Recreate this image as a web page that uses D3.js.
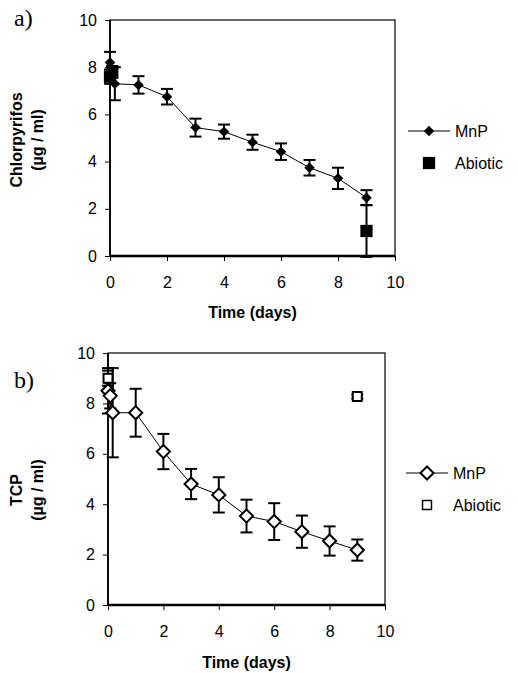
<!DOCTYPE html>
<html>
<head>
<meta charset="utf-8">
<script src="https://cdnjs.cloudflare.com/ajax/libs/d3/7.8.5/d3.min.js"></script>
<style>
  body { margin: 0; background: #fff; }
  svg { display: block; }
</style>
</head>
<body>
<div id="chart"></div>
<script>
// Panel a) chlorpyrifos
var daysA = [0, 0.08, 0.17, 1, 2, 3, 4, 5, 6, 7, 8, 9];
var mnpA = [8.2, 7.6, 7.3, 7.25, 6.75, 5.44, 5.27, 4.82, 4.42, 3.74, 3.29, 2.47];
var mnpErrA = [0.45, 0.3, 0.7, 0.37, 0.33, 0.38, 0.3, 0.32, 0.35, 0.33, 0.45, 0.32];
var abioDaysA = [0, 0.08, 9];
var abioA = [7.6, 7.8, 1.06];
var abioErrA = [0.3, 0.25, 1.1];

// Panel b) TCP
var daysB = [0, 0.08, 0.17, 1, 2, 3, 4, 5, 6, 7, 8, 9];
var mnpB = [8.5, 8.3, 7.63, 7.63, 6.09, 4.8, 4.37, 3.53, 3.31, 2.91, 2.54, 2.18];
var mnpErrB = [0.9, 0.5, 1.77, 0.95, 0.7, 0.6, 0.7, 0.65, 0.73, 0.64, 0.58, 0.42];
var abioDaysB = [0, 9];
var abioB = [9.0, 8.27];
var abioErrB = [0.3, 0.08];

var xTicks = [0, 2, 4, 6, 8, 10];
var yTicks = [0, 2, 4, 6, 8, 10];
var seriesNames = ['MnP', 'Abiotic'];

var width = 518;
var height = 673;

var svg = d3.select('#chart').append('svg')
    .attr('width', width)
    .attr('height', height);

function zip(xs, ys, es) {
    return xs.map(function(x, i) { return {x: x, y: ys[i], e: es[i]}; });
}

var drawPanel = function(cfg) {
    var x = d3.scaleLinear().domain([0, 10]).range([cfg.left, cfg.right]);
    var y = d3.scaleLinear().domain([0, 10]).range([cfg.bottom, cfg.top]);
    var g = svg.append('g');

    //frame (top + right)
    g.append('rect')
        .attr('x', cfg.left).attr('y', cfg.top)
        .attr('width', cfg.right - cfg.left).attr('height', cfg.bottom - cfg.top)
        .attr('fill', 'none').attr('stroke', '#000').attr('stroke-width', 1.2);

    //axes
    var xAxis = g.append('g')
        .attr('transform', 'translate(0,' + cfg.bottom + ')')
        .call(d3.axisBottom(x).tickValues(xTicks).tickSize(5).tickPadding(16));
    var yAxis = g.append('g')
        .attr('transform', 'translate(' + cfg.left + ',0)')
        .call(d3.axisLeft(y).tickValues(yTicks).tickSize(5).tickPadding(8));
    xAxis.select('.domain').attr('stroke-width', 2.5).attr('d', 'M' + cfg.left + ',0H' + cfg.right);
    yAxis.select('.domain').attr('stroke-width', 1.8).attr('d', 'M0,' + cfg.bottom + 'V' + cfg.top);
    [xAxis, yAxis].forEach(function(a) {
        a.selectAll('text')
            .attr('font-family', 'Liberation Sans, Arial, sans-serif')
            .attr('font-size', 16).attr('fill', '#000');
        a.selectAll('line').attr('stroke', '#000');
    });

    //axis titles
    var titleX = (cfg.left + cfg.right) / 2;
    g.append('text')
        .attr('x', titleX).attr('y', cfg.bottom + cfg.xTitleOff)
        .attr('text-anchor', 'middle')
        .attr('font-family', 'Liberation Sans, Arial, sans-serif')
        .attr('font-weight', 'bold').attr('font-size', 16)
        .text('Time (days)');

    var yt = g.append('text')
        .attr('transform', 'translate(' + cfg.titleX + ',' + cfg.titleY + ') rotate(-90)')
        .attr('text-anchor', 'middle')
        .attr('font-family', 'Liberation Sans, Arial, sans-serif')
        .attr('font-weight', 'bold').attr('font-size', 16);
    yt.append('tspan').attr('x', 0).attr('dy', 0).text(cfg.yTitle);
    yt.append('tspan').attr('x', 0).attr('dy', 21).text('(\u00b5g / ml)');

    //panel label
    g.append('text')
        .attr('x', cfg.labelX).attr('y', cfg.labelY)
        .attr('font-family', 'Liberation Serif, Times New Roman, serif')
        .attr('font-size', 24)
        .text(cfg.label);

    var mnp = zip(cfg.mnpX, cfg.mnpY, cfg.mnpE);
    var abio = zip(cfg.abioX, cfg.abioY, cfg.abioE);

    //connecting line
    g.append('path')
        .datum(mnp)
        .attr('fill', 'none').attr('stroke', '#000').attr('stroke-width', 1)
        .attr('d', d3.line().x(function(d) { return x(d.x); }).y(function(d) { return y(d.y); }));

    //error bars
    var drawErr = function(data) {
        var eb = g.append('g').selectAll('g').data(data).enter().append('g')
            .attr('stroke', '#000').attr('stroke-width', 2);
        eb.append('line')
            .attr('x1', function(d) { return x(d.x); }).attr('x2', function(d) { return x(d.x); })
            .attr('y1', function(d) { return y(d.y - d.e); }).attr('y2', function(d) { return y(d.y + d.e); });
        [-1, 1].forEach(function(s) {
            eb.append('line')
                .attr('x1', function(d) { return x(d.x) - 6; }).attr('x2', function(d) { return x(d.x) + 6; })
                .attr('y1', function(d) { return y(d.y + s * d.e); }).attr('y2', function(d) { return y(d.y + s * d.e); });
        });
    };
    drawErr(mnp);
    drawErr(abio);

    var diamond = d3.symbol().type(d3.symbolDiamond2).size(cfg.diamondSize);
    var square = d3.symbol().type(d3.symbolSquare).size(cfg.squareSize);

    g.append('g').selectAll('path').data(abio).enter().append('path')
        .attr('transform', function(d) { return 'translate(' + x(d.x) + ',' + y(d.y) + ')'; })
        .attr('d', square)
        .attr('fill', cfg.filled ? '#000' : '#fff')
        .attr('stroke', '#000').attr('stroke-width', cfg.filled ? 0 : 2);

    g.append('g').selectAll('path').data(mnp).enter().append('path')
        .attr('transform', function(d) { return 'translate(' + x(d.x) + ',' + y(d.y) + ')'; })
        .attr('d', diamond)
        .attr('fill', cfg.filled ? '#000' : '#fff')
        .attr('stroke', '#000').attr('stroke-width', cfg.filled ? 0 : 2);

    //legend
    var lg = g.append('g').attr('transform', 'translate(' + cfg.legendX + ',' + cfg.legendY + ')');
    lg.append('line').attr('x1', 0).attr('x2', 42).attr('y1', 0).attr('y2', 0)
        .attr('stroke', '#000').attr('stroke-width', 1);
    lg.append('path').attr('transform', 'translate(21,0)').attr('d', diamond)
        .attr('fill', cfg.filled ? '#000' : '#fff')
        .attr('stroke', '#000').attr('stroke-width', cfg.filled ? 0 : 2);
    lg.append('path').attr('transform', 'translate(21,32)').attr('d', square)
        .attr('fill', cfg.filled ? '#000' : '#fff')
        .attr('stroke', '#000').attr('stroke-width', cfg.filled ? 0 : 1.5);
    lg.selectAll('text.leg').data(seriesNames).enter().append('text')
        .attr('class', 'leg')
        .attr('x', 47).attr('y', function(d, i) { return i * 32 + 6; })
        .attr('font-family', 'Liberation Sans, Arial, sans-serif')
        .attr('font-size', 16)
        .text(function(d) { return d; });
};

drawPanel({
    left: 110, right: 395, top: 20, bottom: 256,
    mnpX: daysA, mnpY: mnpA, mnpE: mnpErrA,
    abioX: abioDaysA, abioY: abioA, abioE: abioErrA,
    filled: true, diamondSize: 70, squareSize: 150,
    yTitle: 'Chlorpyrifos', titleX: 22, titleY: 140, xTitleOff: 62,
    label: 'a)', labelX: 14, labelY: 26,
    legendX: 408, legendY: 131
});

drawPanel({
    left: 108, right: 385, top: 353, bottom: 605,
    mnpX: daysB, mnpY: mnpB, mnpE: mnpErrB,
    abioX: abioDaysB, abioY: abioB, abioE: abioErrB,
    filled: false, diamondSize: 110, squareSize: 80,
    yTitle: 'TCP', titleX: 22, titleY: 490, xTitleOff: 63,
    label: 'b)', labelX: 14, labelY: 388,
    legendX: 406, legendY: 473
});
</script>
</body>
</html>
